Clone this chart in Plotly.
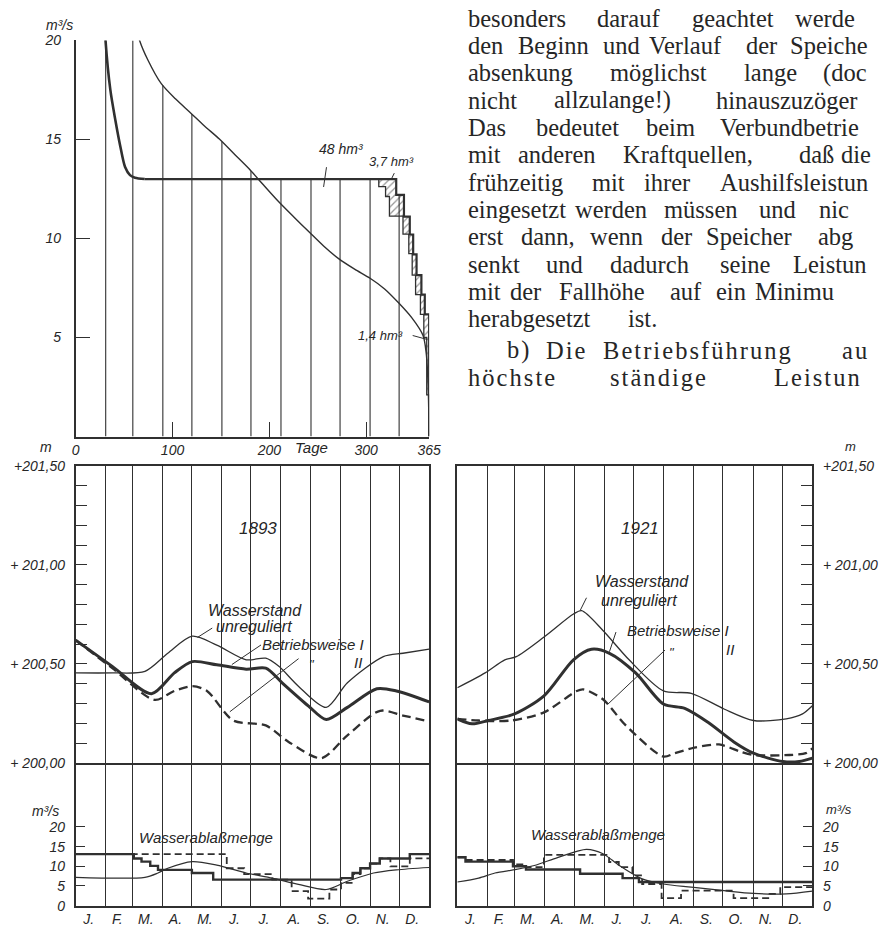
import numpy as np
import plotly.graph_objects as go

# ------------------------------------------------------------------
# DATA
# ------------------------------------------------------------------
# Top chart: duration curves (Tage vs m3/s)
NAT_DAYS = [58, 66, 74.7, 88.2, 103, 118.7, 133, 148.4, 163, 178.8, 194, 209.2, 225,
            241.4, 256, 271.5, 288, 304, 319, 333.4, 347, 358.7, 362, 364, 365]
NAT_Q = [21.6, 20.0, 19.0, 17.83, 17.05, 16.34, 15.68, 15.02, 14.3, 13.53, 12.7, 11.88, 11.1,
         10.31, 9.62, 8.98, 8.45, 7.99, 7.45, 6.75, 6.0, 5.1, 4.2, 2.5, 0.0]
REG_DAYS = [29.8, 30.8, 35.8, 40.9, 45.9, 51.0, 56.1, 61.2, 71.3]
REG_Q = [21.0, 20.0, 17.5, 16.0, 14.7, 13.61, 13.2, 13.07, 13.0]
OUT_STEP_DAYS = [71.3, 331, 339, 345, 348.5, 352, 357, 360.5, 365]
OUT_STEP_Q = [13.0, 12.2, 11.1, 10.2, 9.2, 8.15, 7.16, 6.17, 0.0]
IN_STEP_DAYS = [313, 313, 320, 324, 338, 344, 347.5, 351, 356, 359.5, 362.5, 365]
IN_STEP_Q = [13.0, 12.62, 12.12, 11.13, 10.22, 9.23, 8.15, 7.16, 6.17, 5.0, 2.1, 0.0]
TOP_X_TICKS = [0, 100, 200, 300, 365]
TOP_Y_TICKS = [5, 10, 15, 20]

MONTH_EDGES = [0, 31, 59, 90, 120, 151, 181, 212, 243, 273, 304, 334, 365]
MONTH_LABELS = ['J.', 'F.', 'M.', 'A.', 'M.', 'J.', 'J.', 'A.', 'S.', 'O.', 'N.', 'D.']

# 1893 water levels (m)
L93_NAT_D = [0, 37.8, 71.5, 95.1, 120.4, 145.7, 176.1, 196.3, 209.8, 230.0, 258.7, 280.6, 317.7, 338.0, 365]
L93_NAT = [200.455, 200.455, 200.463, 200.554, 200.640, 200.595, 200.521, 200.529, 200.488, 200.388,
           200.281, 200.405, 200.537, 200.554, 200.575]
L93_I_D = [0, 37.8, 78.3, 101.9, 120.4, 145.7, 176.1, 196.3, 213.2, 240.2, 258.7, 280.6, 311.0, 331.2, 365]
L93_I = [200.620, 200.488, 200.350, 200.455, 200.512, 200.496, 200.474, 200.479, 200.405, 200.289,
         200.220, 200.281, 200.375, 200.364, 200.309]
L93_II_D = [0, 37.8, 81.6, 101.9, 120.4, 135.6, 162.6, 196.3, 219.9, 253.6, 280.6, 314.4, 338.0, 365]
L93_II = [200.620, 200.479, 200.319, 200.364, 200.388, 200.364, 200.215, 200.190, 200.107, 200.025,
          200.140, 200.264, 200.240, 200.210]

# 1893 discharges (m3/s)
Q93_NAT_D = [0, 71.5, 85.0, 95.1, 120.4, 145.7, 176.1, 203.1, 230.0, 258.7, 280.6, 307.6, 331.2, 365]
Q93_NAT = [7.2, 7.2, 8.3, 9.5, 11.2, 10.3, 8.3, 7.0, 5.4, 4.1, 6.2, 8.3, 9.1, 9.7]
Q93_I_D = [0, 60, 68, 77, 85, 120, 142, 274, 286, 294, 304, 314, 345, 365]
Q93_I = [13.1, 12.0, 11.2, 10.1, 9.1, 8.3, 6.6, 7.0, 8.3, 9.5, 10.7, 12.0, 13.1, 13.1]
Q93_II_D = [0, 156, 174, 203, 223, 240, 262, 274, 286, 294, 304, 314, 325, 345, 365]
Q93_II = [13.1, 9.5, 8.0, 6.6, 3.7, 1.8, 4.1, 5.8, 8.0, 9.5, 10.7, 12.0, 10.0, 12.0, 12.0]

# 1921 water levels (m)
L21_NAT_D = [0, 28.6, 48.8, 60.6, 89.1, 119.4, 127.8, 149.7, 176.6, 211.9, 240.5, 274.2, 304.4, 338.1, 354.9, 365]
L21_NAT = [200.380, 200.455, 200.521, 200.537, 200.636, 200.752, 200.769, 200.669, 200.521, 200.364,
           200.352, 200.273, 200.215, 200.223, 200.248, 200.289]
L21_I_D = [0, 15.1, 32.0, 58.9, 89.1, 119.4, 137.9, 156.4, 183.3, 211.9, 233.8, 257.3, 284.3, 304.4, 334.7, 351.5, 365]
L21_I = [200.223, 200.198, 200.215, 200.248, 200.339, 200.521, 200.574, 200.554, 200.455, 200.298,
         200.276, 200.207, 200.107, 200.050, 200.008, 200.008, 200.025]
L21_II_D = [0, 21.9, 55.5, 89.1, 122.8, 129.5, 149.7, 173.2, 211.9, 223.7, 243.9, 269.1, 291.0, 304.4, 341.4, 358.3, 365]
L21_II = [200.223, 200.215, 200.215, 200.256, 200.364, 200.372, 200.322, 200.190, 200.033, 200.050,
          200.078, 200.094, 200.058, 200.041, 200.041, 200.050, 200.074]

# 1921 discharges (m3/s)
Q21_NAT_D = [0, 21.9, 38.7, 60.6, 79.1, 99.2, 122.8, 132.9, 149.7, 166.5, 190.1, 211.9, 240.5, 274.2, 304.4, 338.1, 365]
Q21_NAT = [6.0, 7.0, 8.3, 9.2, 10.2, 11.9, 13.8, 14.3, 13.2, 10.2, 6.8, 5.5, 4.7, 3.8, 3.1, 3.0, 3.7]
Q21_I_D = [0, 8.4, 57.2, 70.6, 126.2, 169.9, 186.7, 365]
Q21_I = [12.3, 11.2, 10.0, 9.2, 8.1, 7.0, 6.0, 6.0]
Q21_II_D = [0, 8.4, 57.2, 70.6, 89, 156, 166, 180, 190, 210, 230, 284, 321, 332, 365]
Q21_II = [12.3, 11.6, 10.5, 9.8, 12.9, 11.1, 9.8, 7.7, 5.5, 1.9, 3.8, 1.9, 3.0, 4.7, 4.7]

LVL_TICKS = [round(200 + 0.1 * i, 1) for i in range(16)]
LVL_LABELS = {200.0: '+ 200,00', 200.5: '+ 200,50', 201.0: '+ 201,00', 201.5: '+201,50'}
Q_TICKS = [0, 5, 10, 15, 20]

# page text beside the top chart (as visible on the cropped page)
PARA_WORDS = [
    ["besonders", "darauf", "geachtet", "werde"],
    ["den", "Beginn", "und", "Verlauf", "der", "Speiche"],
    ["absenkung", "möglichst", "lange", "(doc"],
    ["nicht", "allzulange!)", "hinauszuzöger"],
    ["Das", "bedeutet", "beim", "Verbundbetrie"],
    ["mit", "anderen", "Kraftquellen,", "daß", "die"],
    ["frühzeitig", "mit", "ihrer", "Aushilfsleistun"],
    ["eingesetzt", "werden", "müssen", "und", "nic"],
    ["erst", "dann,", "wenn", "der", "Speicher", "abg"],
    ["senkt", "und", "dadurch", "seine", "Leistun"],
    ["mit", "der", "Fallhöhe", "auf", "ein", "Minimu"],
    ["herabgesetzt", "ist."],
    ["b)", "Die", "Betriebsführung", "au"],
    ["höchste", "ständige", "Leistun"],
]
SPACED_LINES = {12, 13}
RIGHT_EDGE_LINES = {2, 12}   # last word clipped by the page edge

# ------------------------------------------------------------------
# LAYOUT CONSTANTS (pixel geometry of the page)
# ------------------------------------------------------------------
W, H = 882, 932
INK = '#303030'
TXT = '#262626'
SANS = 'Liberation Sans, Arial, sans-serif'
SERIF = 'Liberation Serif, Times New Roman, serif'


def fx(px):
    return px / W


def fy(py):
    return 1 - py / H


X_L = [fx(73), fx(433)]
X_R = [fx(461.7), fx(823.3)]
Y_TOP = [fy(436), fy(33)]
Y_LVL = [fy(768.3), fy(465.7)]
Y_Q = [fy(913.3), fy(768.3)]

PARA_X = [
    [470.7, 601.7, 698.3, 803.3],
    [470.7, 521.7, 608.3, 655, 753.3, 798.3],
    [470.7, 615, 751.7, 856.7],
    [470.7, 558.3, 723.3],
    [470.7, 540, 651.7, 726.7],
    [470.7, 521.7, 628.3, 808, 850],
    [470.7, 596.7, 650, 726.7],
    [470.7, 580, 670, 766.7, 828.3],
    [470.7, 525, 595, 666.7, 713.3, 826.7],
    [470.7, 550, 615, 726.7, 801.7],
    [470.7, 513.3, 563.3, 676.7, 723.3, 763.3],
    [470.7, 633.3],
    [510, 550, 608.3, 860],
    [470.7, 615, 781.7],
]
PARA_Y = [13.3 + 27.8 * i for i in range(12)] + [351, 379]
PARA_DY = -3
PARA_SIZE = 24.5

TICKFONT = dict(family=SANS, size=14, color=TXT, style='italic')

fig = go.Figure()


def add_line(x, y, xa, ya, width, dash='solid', shape='linear', **kw):
    line = dict(color=INK, width=width, dash=dash, shape=shape)
    if shape == 'spline':
        line['smoothing'] = 0.8
    fig.add_trace(go.Scatter(x=x, y=y, mode='lines', xaxis=xa, yaxis=ya, line=line,
                             hoverinfo='skip', showlegend=False, **kw))


def step_value(d, xs, ys):
    i = int(np.searchsorted(xs, d, side='right')) - 1
    return ys[max(i, 0)]


# ---------------- top chart ----------------
gx, gy = [], []
for d in MONTH_EDGES[1:-1]:
    q_nat = float(np.interp(d, NAT_DAYS, NAT_Q, left=99))
    if d <= REG_DAYS[-1]:
        q_reg = float(np.interp(d, REG_DAYS, REG_Q, left=99))
    else:
        q_reg = step_value(d, OUT_STEP_DAYS, OUT_STEP_Q)
    gx += [d, d, None]
    gy += [0, min(20, max(q_nat, q_reg)), None]
add_line(gx, gy, 'x', 'y', 1.1)

add_line(NAT_DAYS, NAT_Q, 'x', 'y', 1.4, shape='spline')
add_line(REG_DAYS, REG_Q, 'x', 'y', 2.6, shape='spline')
add_line(OUT_STEP_DAYS, OUT_STEP_Q, 'x', 'y', 2.2, shape='hv')
add_line(IN_STEP_DAYS, IN_STEP_Q, 'x', 'y', 1.3, shape='hv')
k = int(np.searchsorted(OUT_STEP_DAYS, IN_STEP_DAYS[0], side='right'))
fill_x = [IN_STEP_DAYS[0]] + OUT_STEP_DAYS[k:]
fill_y = [OUT_STEP_Q[k - 1]] + OUT_STEP_Q[k:]
fig.add_trace(go.Scatter(x=fill_x, y=fill_y, mode='lines', xaxis='x', yaxis='y',
                         line=dict(width=0, shape='hv', color=INK), fill='tonexty',
                         fillcolor='rgba(0,0,0,0)',
                         fillpattern=dict(shape='/', size=5, solidity=0.25, fgcolor=INK,
                                          bgcolor='rgba(0,0,0,0)'),
                         hoverinfo='skip', showlegend=False))

# ---------------- lower panels ----------------
DASH = '9px,5px'
for (xl, yl, xq, yq, LN, LND, LI, LID, LII, LIID, QN, QND, QI, QID, QII, QIID) in [
    ('x2', 'y2', 'x3', 'y3', L93_NAT, L93_NAT_D, L93_I, L93_I_D, L93_II, L93_II_D,
     Q93_NAT, Q93_NAT_D, Q93_I, Q93_I_D, Q93_II, Q93_II_D),
    ('x4', 'y4', 'x5', 'y5', L21_NAT, L21_NAT_D, L21_I, L21_I_D, L21_II, L21_II_D,
     Q21_NAT, Q21_NAT_D, Q21_I, Q21_I_D, Q21_II, Q21_II_D),
]:
    add_line(LND, LN, xl, yl, 1.3, shape='spline')
    add_line(LIID, LII, xl, yl, 2.3, dash=DASH, shape='spline')
    add_line(LID, LI, xl, yl, 3.0, shape='spline')
    add_line(QND, QN, xq, yq, 1.2, shape='spline')
    add_line(QIID, QII, xq, yq, 1.8, dash='7px,4px', shape='hv')
    add_line(QID, QI, xq, yq, 2.4, shape='hv')


# ---------------- axes ----------------
def frame_x(domain, anchor, labels):
    d = dict(domain=domain, range=[0, 365], anchor=anchor, showline=True,
             linecolor=INK, linewidth=1.6, zeroline=False, ticks='', fixedrange=True)
    if labels:
        mids = [(a + b) / 2 - 2 for a, b in zip(MONTH_EDGES[:-1], MONTH_EDGES[1:])]
        d.update(mirror=False, tickvals=mids, ticktext=MONTH_LABELS, tickfont=TICKFONT,
                 showgrid=False,
                 minor=dict(tickvals=MONTH_EDGES[1:-1], showgrid=True, gridcolor=INK,
                            gridwidth=1.1, ticks=''))
    else:
        d.update(mirror=True, tickvals=MONTH_EDGES[1:-1], showticklabels=False,
                 showgrid=True, gridcolor=INK, gridwidth=1.1)
    return d


def lvl_y(anchor, side):
    return dict(domain=Y_LVL, range=[200, 201.5], anchor=anchor, side=side, showline=True,
                mirror=True, linecolor=INK, linewidth=1.6, zeroline=False, showgrid=False,
                ticks='inside', ticklen=12, tickwidth=1.2, tickcolor=INK,
                tickvals=LVL_TICKS, ticktext=[LVL_LABELS.get(v, '') for v in LVL_TICKS],
                tickfont=TICKFONT, ticklabelstandoff=6, fixedrange=True)


def q_y(anchor, side):
    return dict(domain=Y_Q, range=[0, (913.3 - 768.3) / 4.0], anchor=anchor, side=side,
                showline=True, mirror=True, linecolor=INK, linewidth=1.6, zeroline=False,
                showgrid=False, ticks='inside', ticklen=10, tickwidth=1.2, tickcolor=INK,
                tickvals=Q_TICKS, ticktext=[str(v) for v in Q_TICKS], tickfont=TICKFONT,
                ticklabelstandoff=6, fixedrange=True)


fig.update_layout(
    width=W, height=H, margin=dict(l=0, r=0, t=0, b=0, pad=0),
    paper_bgcolor='white', plot_bgcolor='rgba(0,0,0,0)', showlegend=False,
    font=dict(family=SANS, color=TXT),
    xaxis=dict(domain=X_L, range=[0, 365], anchor='y', showline=True, linecolor=INK,
               linewidth=1.6, ticks='inside', ticklen=15, tickwidth=1.2, tickcolor=INK,
               tickvals=TOP_X_TICKS, ticktext=[str(v) for v in TOP_X_TICKS],
               tickfont=TICKFONT, showgrid=False, zeroline=False, fixedrange=True),
    yaxis=dict(domain=Y_TOP, range=[0, 20], anchor='x', showline=True, linecolor=INK,
               linewidth=1.6, ticks='inside', ticklen=15, tickwidth=1.2, tickcolor=INK,
               tickvals=TOP_Y_TICKS, ticktext=[str(v) for v in TOP_Y_TICKS],
               tickfont=TICKFONT, ticklabelstandoff=10, showgrid=False, zeroline=False,
               fixedrange=True),
    xaxis2=frame_x(X_L, 'y2', False),
    yaxis2=lvl_y('x2', 'left'),
    xaxis3=frame_x(X_L, 'y3', True),
    yaxis3=q_y('x3', 'left'),
    xaxis4=frame_x(X_R, 'y4', False),
    yaxis4=lvl_y('x4', 'right'),
    xaxis5=frame_x(X_R, 'y5', True),
    yaxis5=q_y('x5', 'right'),
)

# ---------------- annotations ----------------
ann = []


def A(text, x, y, xref='paper', yref='paper', size=15, xanchor='center', family=SANS,
      style='italic'):
    ann.append(dict(text=text, x=x, y=y, xref=xref, yref=yref, showarrow=False,
                    xanchor=xanchor, yanchor='middle',
                    font=dict(family=family, size=size, color=TXT, style=style)))


# axis units / extra labels
A('m³/s', fx(57), fy(17), size=14)
A('Tage', fx(313), fy(447), size=15)
A('m', fx(43), fy(447), size=14)
A('m³/s', fx(42), fy(817), size=14)
A('m', fx(862), fy(446), size=13)
A('m³/s', fx(850), fy(815), size=13)

# top chart labels
A('48 hm³', 274, 14.5, 'x', 'y', size=14)
A('3,7 hm³', 326.6, 13.9, 'x', 'y', size=13)
A('1,4 hm³', 314.7, 5.1, 'x', 'y', size=13)

# 1893 panel
A('1893', 187.9, 201.185, 'x2', 'y2', size=17)
A('Wasserstand', 185.6, 200.768, 'x2', 'y2', size=16)
A('unreguliert', 184.6, 200.689, 'x2', 'y2', size=16)
A('Betriebsweise I', 245.4, 200.600, 'x2', 'y2', size=15)
A('"', 243.7, 200.495, 'x2', 'y2', size=13)
A('II', 291.1, 200.505, 'x2', 'y2', size=15)
A('Wasserablaßmenge', 134.9, 17.25, 'x3', 'y3', size=15)

# 1921 panel
A('1921', 188.3, 201.185, 'x4', 'y4', size=17)
A('Wasserstand', 190.0, 200.914, 'x4', 'y4', size=16)
A('unreguliert', 186.7, 200.821, 'x4', 'y4', size=16)
A('Betriebsweise I', 227.0, 200.668, 'x4', 'y4', size=15)
A('"', 220.3, 200.560, 'x4', 'y4', size=13)
A('II', 280.8, 200.575, 'x4', 'y4', size=15)
A('Wasserablaßmenge', 144.6, 18.1, 'x5', 'y5', size=15)

# page text
for i, (words, xs) in enumerate(zip(PARA_WORDS, PARA_X)):
    for j, (w, x) in enumerate(zip(words, xs)):
        t = '\u200a'.join(w) if i in SPACED_LINES else w
        at_edge = (i in RIGHT_EDGE_LINES) and j == len(words) - 1
        A(t, fx(881 if at_edge else x), fy(PARA_Y[i] + PARA_DY), size=PARA_SIZE,
          xanchor='right' if at_edge else 'left', family=SERIF, style='normal')

fig.update_layout(annotations=ann)

# leader lines
LEADERS = [
    ('x', 'y', 256, 12.6, 259, 13.6),
    ('x', 'y', 329, 13.3, 326, 13.0),
    ('x', 'y', 348, 5.1, 363, 4.9),
    ('x2', 'y2', 141.0, 200.681, 125.8, 200.634),
    ('x2', 'y2', 191.4, 200.596, 161.3, 200.497),
    ('x2', 'y2', 230.2, 200.527, 159.2, 200.259),
    ('x4', 'y4', 132.8, 200.834, 126.1, 200.768),
    ('x4', 'y4', 163.1, 200.661, 156.4, 200.562),
    ('x4', 'y4', 213.5, 200.570, 154.7, 200.297),
]
for xr, yr, x0, y0, x1, y1 in LEADERS:
    fig.add_shape(type='line', xref=xr, yref=yr, x0=x0, y0=y0, x1=x1, y1=y1,
                  line=dict(color=INK, width=1.0))

fig.write_html('out.html')
